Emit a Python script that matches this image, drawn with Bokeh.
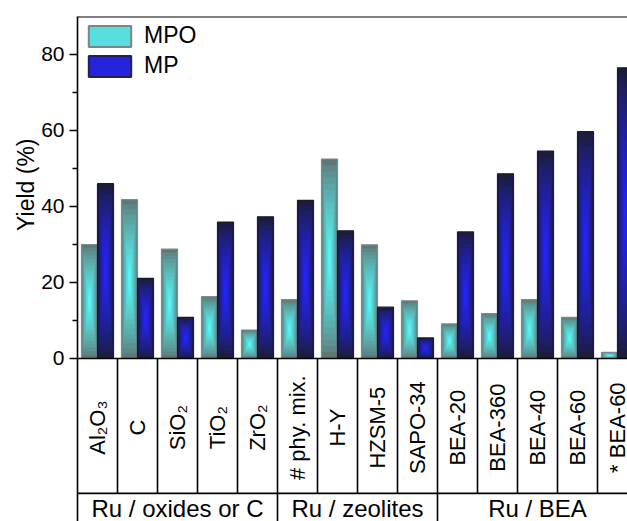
import math
from bokeh.plotting import figure
from bokeh.models import (ColumnDataSource, Range1d, FixedTicker, Legend, LegendItem,
                          Title, Span)
from bokeh.core.properties import value
from bokeh.embed import file_html
from bokeh.resources import INLINE

# ---------------- data ----------------
categories = ["Al\u2082O\u2083", "C", "SiO\u2082", "TiO\u2082", "ZrO\u2082", "# phy. mix.",
              "H-Y", "HZSM-5", "SAPO-34", "BEA-20", "BEA-360", "BEA-40", "BEA-60", "* BEA-60"]
mpo = [30.0, 41.8, 28.8, 16.3, 7.5, 15.5, 52.5, 29.9, 15.2, 9.1, 11.8, 15.5, 10.8, 1.6]
mp = [46.0, 21.1, 10.8, 35.9, 37.3, 41.6, 33.6, 13.5, 5.4, 33.3, 48.6, 54.6, 59.7, 76.5]
groups = ["Ru / oxides or C", "Ru / zeolites", "Ru / BEA"]
group_sizes = [5, 4, 5]
y_ticks = [0, 20, 40, 60, 80]
y_minor = [10, 30, 50, 70]

# ---------------- style / layout ----------------
FONT = "Liberation Sans"
BAR_W = 0.4
MPO_EDGE, MPO_CENTER, MPO_LINE = (0x5e, 0x78, 0x78), (0x55, 0xfa, 0xfa), "#7d8a8a"
MP_EDGE, MP_CENTER, MP_LINE = (0x1c, 0x1c, 0x3c), (0x24, 0x24, 0xff), "#1a1a2e"
Y_TOP, Y_BOT = 90, -42.9
TABLE_LINE = -35.5
CAT_LABEL_Y = -18.2
GROUP_LABEL_Y = -39.6
N_STEPS = 16

p = figure(width=627, height=521, output_backend="svg", toolbar_location=None,
           x_range=Range1d(0, 13.75), y_range=Range1d(Y_BOT, Y_TOP),
           x_axis_location=None, min_border_left=77, min_border_right=0,
           min_border_top=16, min_border_bottom=0)
p.outline_line_color = None
p.grid.visible = False
p.background_fill_color = "white"


def mix(a, b, t):
    return "#%02x%02x%02x" % tuple(int(round(a[i] + (b[i] - a[i]) * t)) for i in range(3))


def gradient_source(offset, vals, edge, center):
    xs, ys, ws, hs, cs = [], [], [], [], []
    for k in range(N_STEPS):
        s = 1 - k / N_STEPS
        col = mix(edge, center, (k / (N_STEPS - 1)) ** 0.8)
        for i, v in enumerate(vals):
            xs.append(i + offset)
            ys.append(v / 2)
            ws.append(BAR_W * s)
            hs.append(v * s)
            cs.append(col)
    return ColumnDataSource(dict(x=xs, y=ys, w=ws, h=hs, c=cs))


idx = list(range(len(categories)))

for off, vals, edge, center, line in [(0.3, mpo, MPO_EDGE, MPO_CENTER, MPO_LINE),
                                      (0.7, mp, MP_EDGE, MP_CENTER, MP_LINE)]:
    src = gradient_source(off, vals, edge, center)
    p.rect(x="x", y="y", width="w", height="h", fill_color="c", line_color=None, source=src)
    p.vbar(x=[i + off for i in idx], width=BAR_W, top=vals, bottom=0,
           fill_color=None, line_color=line, line_width=1.2)

# legend swatch renderers (kept outside the visible x range)
leg_mpo = p.vbar(x=[-5], top=[0], bottom=[0], width=BAR_W, fill_color="#58dede",
                 line_color="#7a8585", line_width=2)
leg_mp = p.vbar(x=[-5], top=[0], bottom=[0], width=BAR_W, fill_color="#2424dc",
                line_color="#22224a", line_width=2)
legend = Legend(items=[LegendItem(label="MPO", renderers=[leg_mpo]),
                       LegendItem(label="MP", renderers=[leg_mp])],
                location="top_left", margin=6, padding=0, spacing=3,
                glyph_width=53, glyph_height=26, label_height=26, label_standoff=8,
                label_text_font=FONT, label_text_font_size="23px", label_text_color="black",
                background_fill_alpha=0, border_line_color=None)
p.add_layout(legend)

# table lines below the bars
n = len(categories)
bounds = []
acc = 0
for g in group_sizes:
    acc += g
    bounds.append(acc)
x0s, y0s, x1s, y1s = [], [], [], []
for b in range(1, n):
    x0s.append(b); x1s.append(b); y0s.append(0)
    y1s.append(Y_BOT if b in bounds else TABLE_LINE)
for yy in (0, TABLE_LINE):
    x0s.append(0); x1s.append(n); y0s.append(yy); y1s.append(yy)
p.segment(x0=x0s, y0=y0s, x1=x1s, y1=y1s, line_color="black", line_width=1.6)

p.add_layout(Span(location=Y_TOP, dimension="width", line_color="black", line_width=2))

# category labels (rotated)
p.text(x=[i + 0.5 for i in idx], y=[CAT_LABEL_Y] * n, text=categories, angle=math.pi / 2,
       text_align="center", text_baseline="middle", text_font=value(FONT),
       text_font_size="22px", text_color="black")

# group labels
starts = [0] + bounds[:-1]
gx = [(s + e) / 2 for s, e in zip(starts, bounds)]
p.text(x=gx, y=[GROUP_LABEL_Y] * len(groups), text=groups, text_align="center",
       text_baseline="middle", text_font=value(FONT), text_font_size="24px",
       text_color="black")

# y axis
ax = p.yaxis[0]
ax.ticker = FixedTicker(ticks=y_ticks, minor_ticks=y_minor)
ax.major_label_text_font = FONT
ax.major_label_text_font_size = "21px"
ax.major_label_text_color = "black"
ax.axis_line_width = 1.6
ax.axis_line_color = "black"
ax.major_tick_out = 8
ax.major_tick_in = 0
ax.minor_tick_out = 5
ax.minor_tick_in = 0
ax.major_tick_line_width = 1.5
ax.minor_tick_line_width = 1.5
ax.major_label_standoff = 5

p.add_layout(Title(text="Yield (%)", align="right", offset=122, text_font=FONT,
                   text_font_size="23px", text_font_style="normal", text_color="black",
                   standoff=0), "left")

open("out.html", "w").write(file_html(p, INLINE))
